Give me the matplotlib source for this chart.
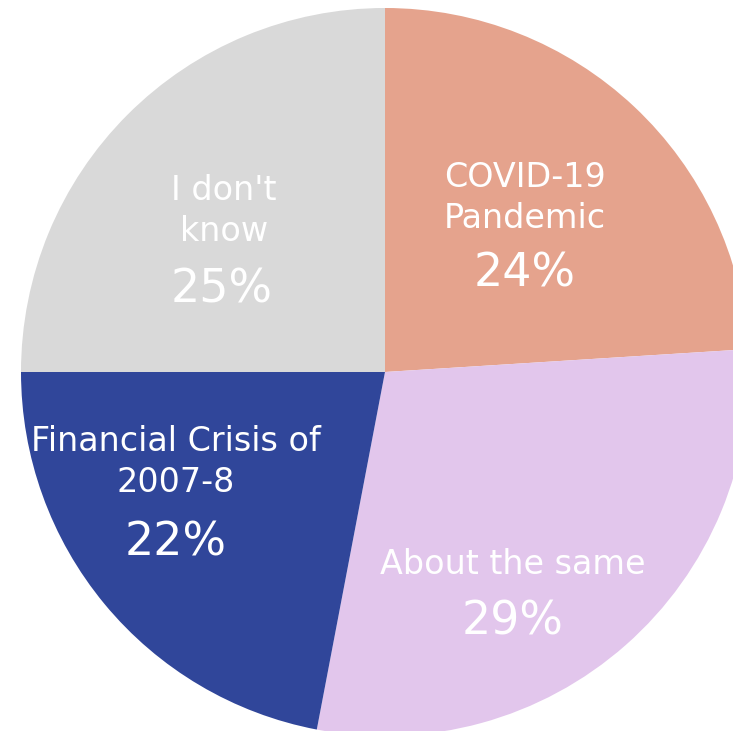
import matplotlib
matplotlib.use('Agg')
import matplotlib.pyplot as plt

labels = ['COVID-19\nPandemic', 'About the same', 'Financial Crisis of\n2007-8', "I don't\nknow"]
values = [24, 29, 22, 25]
colors = ['#E5A38D', '#E2C6EC', '#30469A', '#D9D9D9']

# label anchor (pixel coords from top-left): name centre, percent centre
name_pos = [(525, 198), (513, 565), (176, 462), (224, 211)]
pct_pos = [(525, 274), (513, 622), (176, 543), (222, 290)]

W, H = 733, 731
fig = plt.figure(figsize=(W / 100, H / 100), dpi=100)
ax = fig.add_axes([0, 0, 1, 1])

ax.pie(values, colors=colors, startangle=90, counterclock=False,
       radius=364, center=(385, H - 372), frame=True,
       wedgeprops=dict(linewidth=0))

for lab, v, (nx, ny), (px, py) in zip(labels, values, name_pos, pct_pos):
    ax.text(nx, H - ny, lab, ha='center', va='center', color='white',
            fontsize=24, linespacing=1.3)
    ax.text(px, H - py, '%d%%' % v, ha='center', va='center', color='white',
            fontsize=33)

ax.set_xlim(0, W)
ax.set_ylim(0, H)
ax.set_aspect('auto')
ax.axis('off')

plt.savefig('out.png', dpi=100)
